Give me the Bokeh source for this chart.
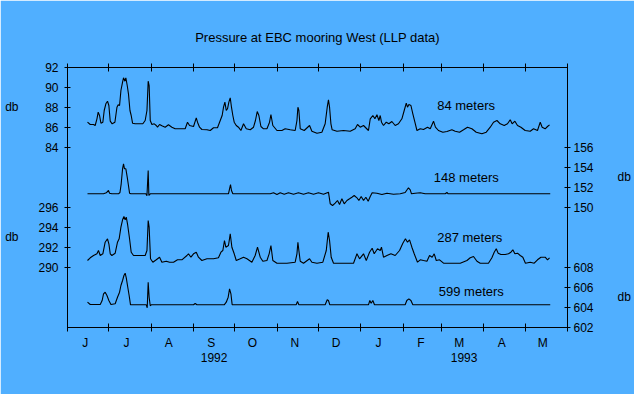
import numpy as np
from datetime import datetime, timezone
from bokeh.plotting import figure
from bokeh.models import Range1d, LinearAxis, DatetimeAxis, FixedTicker, Label
from bokeh.embed import file_html
from bokeh.resources import INLINE

BG = "#50AFFF"
FONT = "Liberation Sans"

# ---------------- data ----------------
title_text = "Pressure at EBC mooring West (LLP data)"
month_letters = ["J", "J", "A", "S", "O", "N", "D", "J", "F", "M", "A", "M"]
month_starts = [(1992, 6), (1992, 7), (1992, 8), (1992, 9), (1992, 10), (1992, 11), (1992, 12),
                (1993, 1), (1993, 2), (1993, 3), (1993, 4), (1993, 5), (1993, 6)]
year_labels = ["1992", "1993"]
series_names = ["84 meters", "148 meters", "287 meters", "599 meters"]
unit_label = "db"

left_ticks_84 = [84, 86, 88, 90, 92]
left_ticks_287 = [290, 292, 294, 296]
right_ticks_148 = [150, 152, 154, 156]
right_ticks_599 = [602, 604, 606, 608]

# days since 1992-06-01
days_84 = [14.6, 16.6, 19.0, 20.2, 21.5, 22.4, 23.4, 24.4, 25.8, 26.8,
           28.0, 29.2, 30.2, 31.2, 32.6, 34.6, 36.1, 37.0, 38.0, 39.0,
           40.2, 40.9, 41.9, 42.6, 43.6, 44.5, 45.6, 46.5, 47.5, 49.4,
           53.1, 55.0, 56.7, 58.0, 58.9, 59.6, 60.4, 61.6, 63.3, 64.8,
           65.7, 67.2, 68.9, 71.3, 73.7, 76.2, 78.6, 82.3, 85.9, 87.6,
           89.1, 92.0, 94.0, 94.9, 96.4, 98.1, 101.8, 104.2, 106.6, 109.5,
           111.5, 112.9, 113.9, 114.9, 115.9, 116.8, 117.8, 118.8, 119.7, 120.7,
           121.7, 123.2, 124.8, 126.6, 128.5, 130.5, 133.4, 135.8, 137.2, 138.5,
           139.7, 141.2, 143.1, 145.6, 147.5, 148.5, 149.9, 152.9, 156.5, 158.9,
           162.6, 166.2, 167.5, 168.2, 168.9, 169.9, 172.8, 176.7, 178.4, 182.1,
           185.7, 188.1, 189.6, 190.5, 191.3, 192.3, 193.2, 196.7, 201.5, 206.4,
           210.0, 211.7, 213.7, 216.1, 219.7, 221.0, 222.9, 224.4, 225.9, 227.3,
           228.3, 229.2, 230.7, 232.7, 234.6, 236.8, 239.2, 241.6, 244.1, 245.8,
           247.3, 248.2, 249.2, 250.7, 252.1, 253.6, 255.1, 257.5, 259.9, 262.8,
           264.8, 267.2, 268.6, 270.8, 274.0, 277.0, 280.6, 283.0, 286.2, 289.1,
           292.0, 295.2, 298.4, 302.5, 305.7, 308.6, 311.0, 313.5, 315.9, 318.8,
           321.2, 323.2, 324.6, 326.6, 328.5, 331.0, 334.1, 337.8, 340.2, 343.1,
           345.1, 346.5, 348.7, 350.4, 351.9]
p_84 = [86.53, 86.3, 86.3, 86.2, 86.87, 87.53, 87.2, 86.43, 86.53, 87.7,
        88.37, 88.63, 88.2, 86.63, 86.37, 86.53, 88.03, 88.27, 88.2, 89.7,
        90.53, 90.97, 90.63, 90.97, 90.2, 89.37, 87.7, 87.2, 86.43, 86.37,
        86.37, 86.37, 86.7, 87.7, 90.63, 90.2, 86.7, 86.3, 86.37, 86.2,
        86.03, 86.3, 86.17, 86.03, 86.27, 86.03, 85.87, 85.87, 85.87, 86.53,
        86.2, 86.1, 86.97, 86.53, 86.03, 85.8, 85.77, 85.7, 85.97, 85.97,
        86.7, 87.2, 88.03, 88.53, 87.7, 87.87, 88.53, 88.97, 88.03, 87.2,
        86.53, 86.2, 86.03, 85.7, 86.37, 85.87, 85.77, 86.03, 86.7, 87.6,
        87.2, 86.1, 85.87, 85.87, 86.53, 87.3, 86.2, 85.7, 85.7, 85.87,
        85.77, 85.7, 86.7, 88.03, 87.7, 85.87, 85.7, 86.2, 85.63, 85.43,
        85.53, 86.37, 88.03, 88.77, 88.03, 86.37, 85.77, 85.63, 85.7, 85.63,
        85.87, 86.3, 86.03, 86.2, 85.7, 86.87, 87.2, 86.87, 87.27, 86.7,
        87.2, 86.53, 86.2, 86.53, 86.37, 86.6, 86.2, 86.37, 86.87, 87.7,
        88.43, 88.03, 88.3, 88.2, 87.37, 86.53, 85.7, 85.87, 85.8, 86.03,
        85.87, 86.63, 86.03, 85.7, 85.53, 85.6, 85.77, 85.63, 85.53, 85.77,
        86.03, 85.87, 85.53, 85.37, 85.53, 86.03, 86.53, 86.7, 86.37, 86.2,
        86.37, 86.77, 86.37, 86.63, 86.2, 86.03, 85.7, 85.63, 85.87, 85.7,
        86.53, 86.03, 85.87, 86.1, 86.27]

days_148 = [14.6, 26.3, 28.3, 29.9, 30.7, 32.4, 37.2, 38.3, 39.2, 40.2,
            40.9, 41.6, 42.6, 43.6, 44.5, 45.3, 46.3, 57.2, 58.0, 58.9,
            59.4, 60.4, 117.5, 118.3, 119.0, 119.7, 120.7, 148.0, 150.4, 152.9,
            155.3, 158.2, 161.3, 165.0, 168.6, 172.3, 175.9, 179.6, 183.2, 186.9,
            190.5, 191.8, 193.5, 195.4, 197.1, 198.6, 200.3, 202.0, 204.0, 205.9,
            207.6, 209.3, 211.3, 212.7, 214.4, 216.1, 217.8, 219.5, 221.0, 222.4,
            225.9, 229.5, 233.2, 238.0, 242.9, 246.5, 248.9, 250.2, 251.1, 253.8,
            257.5, 261.1, 275.7, 277.0, 277.9, 352.4]
p_148 = [151.37, 151.37, 151.47, 151.7, 151.43, 151.37, 151.37, 151.5, 152.37, 153.87,
         154.37, 153.87, 153.87, 153.03, 152.2, 151.43, 151.37, 151.37, 151.17, 153.7,
         151.2, 151.37, 151.37, 151.87, 152.3, 151.7, 151.37, 151.37, 151.47, 151.3,
         151.47, 151.33, 151.47, 151.33, 151.47, 151.33, 151.47, 151.33, 151.47, 151.33,
         151.53, 150.37, 150.2, 150.43, 150.7, 150.3, 150.87, 150.37, 150.7, 150.87,
         151.03, 151.2, 150.97, 150.7, 151.1, 150.7, 151.03, 150.63, 151.1, 151.47,
         151.43, 151.3, 151.43, 151.33, 151.37, 151.5, 151.97, 151.77, 151.37, 151.43,
         151.47, 151.37, 151.37, 151.5, 151.37, 151.37]

days_287 = [14.6, 16.6, 19.0, 21.5, 22.6, 23.9, 25.8, 27.5, 29.2, 30.2,
            31.2, 32.4, 34.8, 36.5, 37.7, 39.0, 40.2, 41.2, 42.1, 42.9,
            43.8, 45.3, 46.5, 48.2, 51.8, 56.7, 58.0, 58.9, 59.6, 60.6,
            62.3, 64.8, 67.2, 68.9, 72.1, 74.5, 77.4, 80.3, 83.5, 87.2,
            88.3, 90.1, 92.0, 94.0, 95.6, 98.1, 101.8, 106.6, 110.2, 112.0,
            113.4, 114.6, 115.6, 117.5, 118.8, 120.0, 121.7, 123.2, 126.1, 128.5,
            131.0, 134.6, 137.0, 138.7, 140.7, 142.6, 145.6, 147.2, 148.5, 149.9,
            152.9, 160.2, 166.2, 167.5, 168.2, 168.9, 169.9, 172.3, 176.7, 178.4,
            182.1, 186.4, 188.9, 190.3, 191.3, 192.5, 194.2, 201.5, 208.8, 211.3,
            213.2, 216.1, 218.1, 220.5, 222.4, 223.9, 226.3, 228.3, 229.2, 230.7,
            233.2, 236.1, 239.2, 242.4, 244.8, 246.7, 248.2, 249.7, 251.4, 253.1,
            255.5, 257.5, 259.9, 262.4, 264.3, 266.2, 267.7, 269.2, 271.6, 274.5,
            286.7, 291.6, 294.0, 296.4, 298.9, 301.3, 307.3, 309.8, 311.5, 313.0,
            314.4, 316.4, 319.5, 321.9, 323.7, 325.1, 326.6, 328.5, 330.5, 332.4,
            334.3, 337.8, 340.7, 343.1, 345.6, 348.7, 350.4, 351.9]
p_287 = [290.7, 290.97, 291.2, 291.37, 291.7, 291.2, 291.37, 292.53, 292.87, 292.37,
         291.37, 291.2, 291.43, 292.53, 292.87, 294.03, 294.77, 295.1, 294.77, 295.03,
         294.37, 292.87, 291.53, 291.2, 291.2, 291.2, 291.7, 294.7, 294.03, 290.87,
         290.53, 290.77, 291.03, 290.53, 290.63, 290.53, 290.53, 290.77, 290.77, 291.2,
         291.37, 291.03, 291.37, 291.53, 291.03, 290.7, 290.87, 290.87, 290.97, 291.53,
         291.7, 292.7, 292.03, 292.2, 293.37, 292.03, 291.37, 290.7, 290.87, 291.03,
         290.87, 290.53, 291.2, 292.03, 291.03, 290.63, 290.7, 291.37, 292.2, 290.7,
         290.43, 290.43, 290.53, 291.37, 292.53, 291.7, 290.63, 290.43, 290.87, 290.53,
         290.43, 290.53, 291.7, 293.53, 292.7, 291.03, 290.43, 290.43, 290.43, 291.37,
         290.87, 291.37, 290.7, 291.53, 291.93, 291.37, 291.87, 291.7, 292.03, 291.03,
         291.2, 291.37, 291.2, 291.7, 292.43, 292.87, 292.53, 292.77, 292.03, 291.37,
         290.53, 290.77, 290.7, 290.63, 291.2, 291.03, 291.37, 290.7, 290.77, 290.43,
         290.43, 290.7, 290.97, 291.1, 290.63, 290.43, 290.43, 290.97, 291.53, 291.87,
         291.43, 291.3, 291.3, 291.37, 291.53, 291.77, 291.37, 291.43, 291.2, 291.03,
         290.43, 290.53, 290.43, 290.77, 291.03, 291.03, 290.77, 290.97]

days_599 = [14.6, 16.6, 23.9, 25.3, 26.3, 27.5, 28.8, 30.2, 31.7, 34.8,
            36.5, 38.0, 39.0, 40.2, 41.2, 42.1, 42.9, 43.8, 45.0, 46.0,
            57.5, 58.2, 58.9, 59.6, 60.4, 61.1, 92.0, 93.2, 94.5, 114.4,
            115.9, 117.3, 118.3, 119.3, 120.2, 166.9, 167.9, 168.9, 188.1, 189.6,
            190.5, 191.5, 219.7, 220.7, 221.7, 222.9, 224.1, 246.5, 247.7, 249.2,
            250.7, 252.1, 352.4]
p_599 = [604.53, 604.3, 604.3, 604.7, 605.37, 605.53, 605.2, 604.7, 604.3, 604.37,
         605.03, 605.53, 606.2, 606.7, 607.2, 607.43, 606.97, 606.2, 605.2, 604.27,
         604.27, 603.97, 606.53, 605.03, 604.17, 604.27, 604.27, 604.4, 604.27, 604.27,
         604.53, 605.03, 605.87, 605.37, 604.27, 604.27, 604.6, 604.27, 604.27, 604.77,
         604.7, 604.27, 604.27, 604.7, 604.43, 604.7, 604.27, 604.27, 604.7, 604.87,
         604.7, 604.27, 604.27]

# ---------------- helpers ----------------
DAY = 86400000.0


def ms(y, m, d=1):
    return int(datetime(y, m, d, tzinfo=timezone.utc).timestamp() * 1000)


X0 = ms(1992, 6, 1)
X1 = ms(1993, 6, 1)


def to_ms(days):
    return [X0 + d * DAY for d in days]


bounds = [ms(y, m) for (y, m) in month_starts]
label_ticks = [ms(y, m, 14) for (y, m) in month_starts[:-1]]
year_ticks = [int((bounds[0] + bounds[7]) / 2), int((bounds[7] + bounds[12]) / 2)]

# ranges: main (84 m) and three stacked extra ranges sharing one pixel scale
y_main = Range1d(66, 92)
r287 = Range1d(284, 310)
r148 = Range1d(138, 164)
r599 = Range1d(602, 628)

W, H = 634, 394
FL, FT, FW, FH = 67, 67, 500, 260  # frame position in canvas pixels


def px_x(px):
    return X0 + (px - FL) / FW * (X1 - X0)


def px_y(py):
    return round(y_main.end - (py - FT) / FH * (y_main.end - y_main.start), 2)


p = figure(frame_width=FW, frame_height=FH, x_axis_type="datetime",
           x_range=Range1d(X0, X1), y_range=y_main,
           output_backend="svg", toolbar_location=None,
           min_border_left=FL, min_border_right=W - FL - FW,
           min_border_top=FT, min_border_bottom=H - FT - FH)
p.extra_y_ranges = {"r287": r287, "r148": r148, "r599": r599}
p.background_fill_color = BG
p.border_fill_color = BG
p.outline_line_color = None
p.xgrid.visible = False
p.ygrid.visible = False

p.title.text = title_text
p.title.align = "center"
p.title.text_font = FONT
p.title.text_font_size = "13px"
p.title.text_font_style = "normal"
p.title.text_color = "black"
p.title.standoff = 38


def style_axis(ax):
    ax.axis_line_color = "black"
    ax.major_tick_line_color = "black"
    ax.minor_tick_line_color = "black"
    ax.major_label_text_color = "black"
    ax.major_label_text_font = FONT
    ax.major_label_text_font_size = "12px"


def bare_axis(ax):
    ax.axis_line_color = None
    ax.major_tick_line_color = None
    ax.minor_tick_line_color = None
    ax.major_tick_in = 0
    ax.major_tick_out = 0
    ax.minor_tick_in = 0
    ax.minor_tick_out = 0


# left axis (84 m and 287 m)
off287 = r287.start - y_main.start
yax = p.yaxis[0]
style_axis(yax)
lt = left_ticks_84 + [t - off287 for t in left_ticks_287]
yax.ticker = FixedTicker(ticks=lt)
yax.major_label_overrides = {t - off287: str(t) for t in left_ticks_287}
yax.major_tick_in = 3
yax.major_tick_out = 3
yax.minor_tick_in = 0
yax.minor_tick_out = 0
yax.major_label_standoff = 6

# left "db" unit labels
db_left = [px_y(106.7), px_y(236.7)]
dbl = LinearAxis(ticker=FixedTicker(ticks=db_left))
style_axis(dbl)
bare_axis(dbl)
dbl.major_label_overrides = {t: unit_label for t in db_left}
dbl.major_label_standoff = 17
p.add_layout(dbl, "left")

# right axis (148 m and 599 m)
off599 = r599.start - r148.start
rax = LinearAxis(y_range_name="r148")
style_axis(rax)
rax.ticker = FixedTicker(ticks=right_ticks_148 + [t - off599 for t in right_ticks_599])
rax.major_label_overrides = {t - off599: str(t) for t in right_ticks_599}
rax.major_tick_in = 3
rax.major_tick_out = 3
rax.minor_tick_in = 0
rax.minor_tick_out = 0
rax.major_label_standoff = 3
p.add_layout(rax, "right")

# right "db" unit labels
db_right = [px_y(176.7), px_y(296.7)]
dbr = LinearAxis(ticker=FixedTicker(ticks=db_right))
style_axis(dbr)
bare_axis(dbr)
dbr.major_label_overrides = {t: unit_label for t in db_right}
dbr.major_label_standoff = 21
p.add_layout(dbr, "right")

# bottom axis: month letters, boundary ticks
xax = p.xaxis[0]
style_axis(xax)
xax.ticker = FixedTicker(ticks=label_ticks, minor_ticks=bounds)
xax.major_label_overrides = {t: l for t, l in zip(label_ticks, month_letters)}
xax.major_tick_in = 0
xax.major_tick_out = 0
xax.minor_tick_in = 4
xax.minor_tick_out = 4
xax.major_label_standoff = 4

# year axis
yr = DatetimeAxis(ticker=FixedTicker(ticks=year_ticks))
style_axis(yr)
bare_axis(yr)
yr.major_label_overrides = {t: l for t, l in zip(year_ticks, year_labels)}
yr.major_label_standoff = 0
p.add_layout(yr, "below")

# top axis: boundary ticks only
top = DatetimeAxis(ticker=FixedTicker(ticks=[], minor_ticks=bounds))
style_axis(top)
top.major_tick_in = 0
top.major_tick_out = 0
top.minor_tick_in = 4
top.minor_tick_out = 4
top.major_label_standoff = 0
p.add_layout(top, "above")

# series
p.line(to_ms(days_84), p_84, line_color="black", line_width=1.1)
p.line(to_ms(days_148), p_148, line_color="black", line_width=1.1, y_range_name="r148")
p.line(to_ms(days_287), p_287, line_color="black", line_width=1.1, y_range_name="r287")
p.line(to_ms(days_599), p_599, line_color="black", line_width=1.1, y_range_name="r599")


def add_text(txt, px, py, align="left", size="13px"):
    p.add_layout(Label(x=px_x(px), y=px_y(py), text=txt, text_align=align,
                       text_baseline="middle", text_font=FONT, text_font_size=size,
                       text_color="black"))


add_text(series_names[0], 436.7, 105)
add_text(series_names[1], 433.3, 177)
add_text(series_names[2], 436.7, 237.3)
add_text(series_names[3], 438.3, 290.7)

open("out.html", "w").write(file_html(p, INLINE, title="Pressure at EBC mooring West"))
